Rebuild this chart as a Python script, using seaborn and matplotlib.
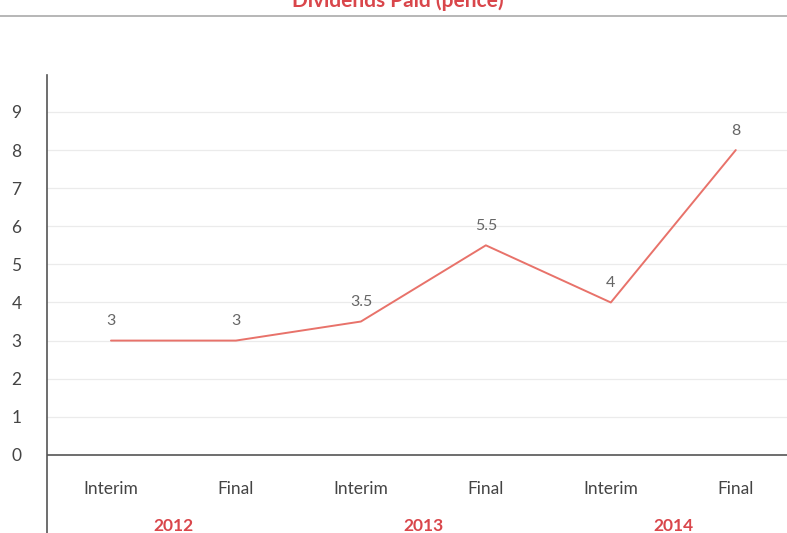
import matplotlib
matplotlib.use("Agg")
import matplotlib.pyplot as plt
import seaborn as sns
import pandas as pd

periods = ["Interim", "Final", "Interim", "Final", "Interim", "Final"]
years = ["2012", "2013", "2014"]
dividends = [3, 3, 3.5, 5.5, 4, 8]
value_labels = ["3", "3", "3.5", "5.5", "4", "8"]
y_ticks = list(range(0, 10))

sns.set_theme(style="white")
plt.rcParams["font.family"] = ["Lato", "DejaVu Sans"]

RED = "#d9464b"
LINE = "#e8726a"
GRAY = "#444444"

df = pd.DataFrame({"pos": range(len(dividends)), "value": dividends})

fig = plt.figure(figsize=(7.87, 5.33), dpi=100)
W, H = 787, 533
ax = fig.add_axes([47 / W, 0, 1 - 47 / W, (533 - 75) / H])

sns.lineplot(data=df, x="pos", y="value", ax=ax, color=LINE, linewidth=1.4)

ax.set_xlim(-0.512, 5.41)
ax.set_ylim(-2.05, 9.97)

for y in y_ticks[1:]:
    ax.axhline(y, color="#ebebeb", linewidth=0.9, zorder=0)
ax.axhline(0, color="#555555", linewidth=1.2, zorder=1)

for sp in ["top", "right", "bottom"]:
    ax.spines[sp].set_visible(False)
ax.spines["left"].set_color("#555555")
ax.spines["left"].set_linewidth(1.2)

ax.set_yticks(y_ticks)
ax.set_yticklabels([str(t) for t in y_ticks], fontsize=12.5, color=GRAY)
ax.tick_params(axis="y", length=0, pad=22)
for lbl in ax.get_yticklabels():
    lbl.set_horizontalalignment("center")
ax.set_xticks([])
ax.set_xlabel("")
ax.set_ylabel("")

for i, (v, t) in enumerate(zip(dividends, value_labels)):
    ax.annotate(t, (i, v), xytext=(0, 9), textcoords="offset points",
                ha="center", va="bottom", fontsize=11.5, color="#666666")

for i, p in enumerate(periods):
    ax.text(i, -0.9, p, ha="center", va="center", fontsize=12.5, color=GRAY)
for j, yr in enumerate(years):
    ax.text(2 * j + 0.5, -1.86, yr, ha="center", va="center", fontsize=12.5,
            color=RED, fontweight="bold")

fig.add_artist(plt.Line2D([0, 1], [1 - 16 / H, 1 - 16 / H], color="#aaaaaa",
                          linewidth=1.2, transform=fig.transFigure))
fig.text(0.505, 1 - 1 / H, "Dividends Paid (pence)", ha="center", va="center",
         fontsize=15, fontweight="bold", color=RED)

fig.savefig("out.png", dpi=100)
